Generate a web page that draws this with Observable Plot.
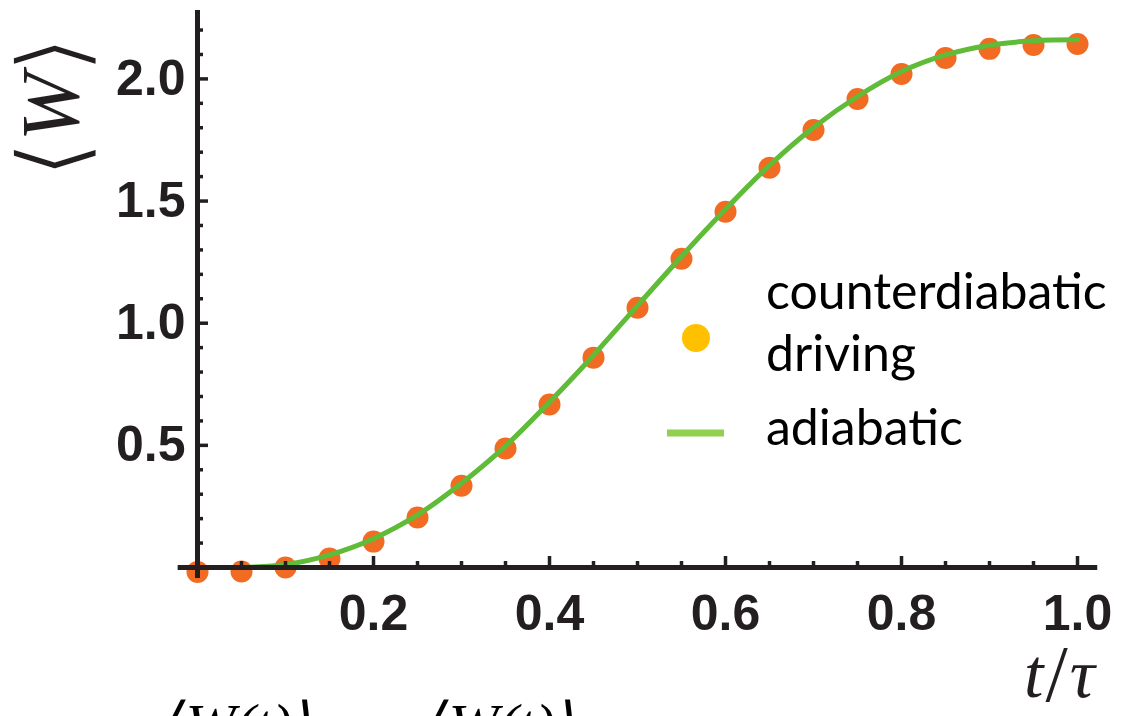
<!DOCTYPE html>
<html>
<head>
<meta charset="utf-8">
<script src="https://cdn.jsdelivr.net/npm/d3@7"></script>
<script src="https://cdn.jsdelivr.net/npm/@observablehq/plot@0.6"></script>
<style>
  html, body { margin: 0; padding: 0; background: #fff; }
  #wrap { position: relative; width: 1123px; height: 716px; overflow: hidden; background: #fff; }
  #wrap svg { position: absolute; left: 0; top: 0; }
</style>
</head>
<body>
<div id="wrap"></div>
<script>
// ---- data ----
const tDots = [0, 0.05, 0.1, 0.15, 0.2, 0.25, 0.3, 0.35, 0.4, 0.45, 0.5, 0.55, 0.6, 0.65, 0.7, 0.75, 0.8, 0.85, 0.9, 0.95, 1.0];
const wDots = [-0.018, -0.016, 0.0, 0.037, 0.106, 0.205, 0.335, 0.487, 0.667, 0.859, 1.063, 1.264, 1.456, 1.636, 1.791, 1.918, 2.02, 2.086, 2.123, 2.139, 2.143];
const tLine = [0.05, 0.1, 0.15, 0.2, 0.25, 0.3, 0.35, 0.4, 0.45, 0.5, 0.55, 0.6, 0.65, 0.7, 0.75, 0.8, 0.85, 0.9, 0.95, 1.0];
const wLine = [0.0, 0.012, 0.052, 0.118, 0.215, 0.345, 0.497, 0.677, 0.869, 1.072, 1.273, 1.466, 1.646, 1.801, 1.928, 2.03, 2.098, 2.138, 2.156, 2.16];
const xMajor = [0.2, 0.4, 0.6, 0.8, 1.0];
const xMinor = [0.05, 0.1, 0.15, 0.25, 0.3, 0.35, 0.45, 0.5, 0.55, 0.65, 0.7, 0.75, 0.85, 0.9, 0.95];
const yMajor = [0.5, 1.0, 1.5, 2.0];
const yMinor = [0.1, 0.2, 0.3, 0.4, 0.6, 0.7, 0.8, 0.9, 1.1, 1.2, 1.3, 1.4, 1.6, 1.7, 1.8, 1.9, 2.1, 2.2];
const legendLabels = [["counterdiabatic", "driving"], ["adiabatic"]];
const yTitle = ["⟨", "W", "⟩"];
const xTitle = ["t", "/", "τ"];
const eqFragments = ["⟨W(t)⟩", "⟨W(t)⟩"];

const dots = tDots.map((t, i) => ({t, w: wDots[i]}));
const line = tLine.map((t, i) => ({t, w: wLine[i]}));

// ---- layout ----
const W = 1123, H = 716;
const mL = 197, mR = 46, mT = 10, mB = 149;
const fw = W - mL - mR, fh = H - mT - mB;
const ink = "#231f20";
const tickFont = {fontSize: 50, fontWeight: "bold", fontFamily: "'Liberation Sans', Arial, sans-serif", fill: ink};

const chart = Plot.plot({
  width: W, height: H,
  marginLeft: mL, marginRight: mR, marginTop: mT, marginBottom: mB,
  x: {domain: [0, 1]},
  y: {domain: [0, 2.28]},
  style: {background: "transparent", overflow: "visible"},
  marks: [
    Plot.dot(dots, {x: "t", y: "w", r: 11, fill: "#f26b22", stroke: "none", clip: false}),
    Plot.line(line, {x: "t", y: "w", stroke: "#5fbb38", strokeWidth: 5, curve: "catmull-rom"}),
    Plot.ruleY([0], {x1: -0.022, x2: 1.023, stroke: ink, strokeWidth: 5}),
    Plot.ruleX([0], {y1: -0.045, y2: 2.28, stroke: ink, strokeWidth: 5}),
    Plot.tickX(xMajor, {x: d => d, insetTop: fh - 11, stroke: ink, strokeWidth: 3.5}),
    Plot.tickX(xMinor, {x: d => d, insetTop: fh - 6, stroke: ink, strokeWidth: 3.5}),
    Plot.tickY(yMajor, {y: d => d, insetRight: fw - 11, stroke: ink, strokeWidth: 3.5}),
    Plot.tickY(yMinor, {y: d => d, insetRight: fw - 6, stroke: ink, strokeWidth: 3.5}),
    Plot.axisX({ticks: xMajor, tickSize: 0, tickPadding: 27, tickFormat: d3.format(".1f"), label: null, ...tickFont}),
    Plot.axisY({ticks: yMajor, tickSize: 0, tickPadding: 12, tickFormat: d3.format(".1f"), label: null, ...tickFont})
  ]
});
document.getElementById("wrap").appendChild(chart);

// ---- overlay: titles, legend, cropped equation ----
const ov = d3.select("#wrap").append("svg").attr("width", W).attr("height", H);
const serif = "'Liberation Serif', 'DejaVu Serif', serif";

// y title: thin angle brackets around italic W
const yt = ov.append("text")
  .attr("transform", "translate(78,107) rotate(-90)")
  .attr("text-anchor", "middle")
  .attr("font-family", serif).attr("font-size", 82)
  .attr("fill", ink);
const bracket = s => yt.append("tspan")
  .attr("font-family", "'DejaVu Sans', sans-serif").attr("font-size", 94)
  .attr("stroke", "#fff").attr("stroke-width", 2).text(s);
bracket(yTitle[0]).attr("dy", 6);
yt.append("tspan").attr("font-style", "italic").attr("dy", -6).text(yTitle[1]);
bracket(yTitle[2]).attr("dy", 6);

// x title
const xt = ov.append("text")
  .attr("x", 1024).attr("y", 697)
  .attr("font-family", serif).attr("font-style", "italic").attr("font-size", 70)
  .attr("fill", ink);
xt.append("tspan").text(xTitle[0]);
xt.append("tspan").attr("font-style", "normal").attr("font-size", 80).attr("dy", 4).attr("dx", 2).text(xTitle[1]);
xt.append("tspan").attr("dy", -4).attr("dx", 2).text(xTitle[2]);

// legend
const lg = ov.append("g").attr("font-family", "Lato, 'Open Sans', sans-serif").attr("font-size", 50).attr("fill", "#000");
lg.append("circle").attr("cx", 696).attr("cy", 338).attr("r", 14).attr("fill", "#ffc000");
lg.append("line").attr("x1", 667).attr("x2", 724).attr("y1", 433).attr("y2", 433)
  .attr("stroke", "#92d050").attr("stroke-width", 7);
legendLabels[0].forEach((s, i) => lg.append("text").attr("x", 766).attr("y", 309 + i * 62).text(s));
lg.append("text").attr("x", 766).attr("y", 445).text(legendLabels[1][0]);

// cropped equation at the bottom edge (cut off by the page edge, as in the reference)
const eq = ov.append("g").attr("font-family", serif).attr("font-style", "italic").attr("font-size", 60).attr("fill", "#000");
eq.append("text").attr("x", 162).attr("y", 745).text(eqFragments[0]);
eq.append("text").attr("x", 425).attr("y", 745).text(eqFragments[1]);
</script>
</body>
</html>
